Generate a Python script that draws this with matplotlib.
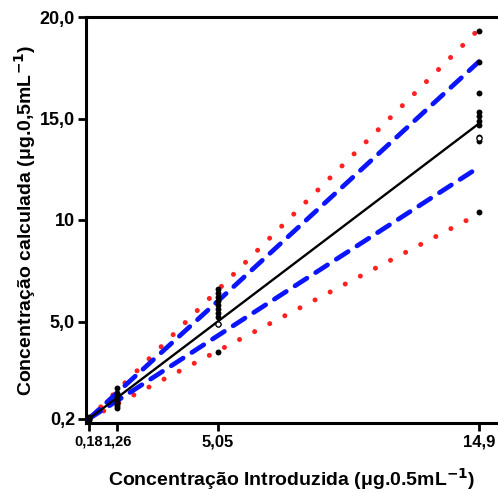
import numpy as np
import matplotlib.pyplot as plt

plt.rcParams["font.family"] = ["Liberation Sans", "DejaVu Sans"]

# Levels introduced (x) and measured values (y)
x_levels = [0.18, 1.26, 5.05, 14.9]
pts_x = ([0.18] * 4 + [1.26] * 8 + [5.05] * 10 + [14.9] * 10)
pts_y = ([0.15, 0.2, 0.25, 0.3]
         + [0.75, 0.85, 0.95, 1.05, 1.2, 1.35, 1.5, 1.7]
         + [3.5, 4.9, 5.2, 5.4, 5.6, 5.8, 6.0, 6.2, 6.4, 6.6]
         + [10.4, 13.9, 14.1, 14.7, 14.9, 15.1, 15.3, 16.25, 17.8, 19.3])
hollow_x = [5.05, 14.9]
hollow_y = [4.9, 14.05]

fit_y = [0.2, 1.25, 5.0, 14.75]
conf_hi = [0.2, 1.5, 6.0, 17.8]
conf_lo = [0.2, 1.1, 4.3, 12.6]
pred_hi = [0.2, 1.6, 6.55, 19.4]
pred_lo = [0.2, 0.95, 3.55, 10.3]

xtick_labels = ["0,18", "1,26", "5,05", "14,9"]
yticks = [0.2, 5, 10, 15, 20]
ytick_labels = ["0,2", "5,0", "10", "15,0", "20,0"]

fig = plt.figure(figsize=(4.98, 4.93), dpi=100)
ax = fig.add_axes([86 / 498, 70 / 493, 412 / 498, 406 / 493])

for band in (pred_hi, pred_lo):
    ax.plot(x_levels, band, color="#ff2020", lw=3.6, dashes=(0.01, 3.4),
            dash_capstyle="round", zorder=2)
for band in (conf_hi, conf_lo):
    ax.plot(x_levels, band, color="#0a14ff", lw=3.4, dashes=(3.0, 2.2),
            dash_capstyle="round", zorder=3)
ax.plot(x_levels, fit_y, color="black", lw=1.7, zorder=4)
ax.scatter(pts_x, pts_y, s=18, color="black", zorder=5, linewidths=0)
ax.scatter(hollow_x, hollow_y, s=14, facecolor="white", edgecolor="black",
           linewidths=0.9, zorder=6)

ax.set_xlim(0.08, 15.62)
ax.set_ylim(0, 20)
ax.set_xticks(x_levels)
ax.set_xticklabels(xtick_labels)
ax.set_yticks(yticks)
ax.set_yticklabels(ytick_labels)

for side in ["left", "bottom", "top"]:
    ax.spines[side].set_linewidth(2.2)
ax.spines["right"].set_visible(False)
ax.tick_params(axis="both", direction="out", length=6, width=2, pad=2)
ax.tick_params(axis="x", labelsize=12)
ax.tick_params(axis="y", labelsize=13)
for lab in ax.get_xticklabels() + ax.get_yticklabels():
    lab.set_fontweight("bold")
for lab in ax.get_xticklabels()[:2]:
    lab.set_fontsize(10.5)

ax.set_xlabel("Concentração Introduzida (μg.0.5mL$^{\\mathbf{-1}}$)",
              fontsize=14, fontweight="bold", labelpad=12)
ax.set_ylabel("Concentração calculada (μg.0,5mL$^{\\mathbf{-1}}$)",
              fontsize=14, fontweight="bold", labelpad=1)

fig.savefig("out.png", dpi=100)
